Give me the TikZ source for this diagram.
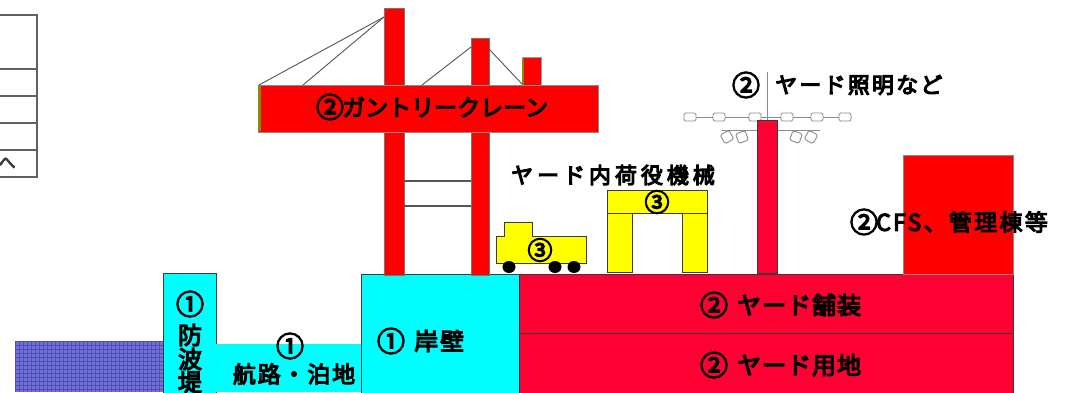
\documentclass[tikz,border=0pt]{standalone}
\usepackage{fontspec}
\setmainfont{Noto Sans CJK JP}[FakeBold=5]
\newcommand\spaced[2]{{\addfontfeature{LetterSpace=#1}#2}}

\definecolor{crane}{HTML}{FF0000}
\definecolor{yard}{HTML}{FF0033}
\definecolor{quay}{HTML}{00FFFF}
\definecolor{machine}{HTML}{FFFF00}
\definecolor{sea}{HTML}{7171DA}
\definecolor{seagrid}{HTML}{4E4EB4}
\definecolor{edge}{HTML}{3A3A3A}
\definecolor{olivestrip}{HTML}{8A8A00}
\definecolor{wire}{HTML}{555555}
\definecolor{lampgray}{HTML}{8C8C8C}

\tikzset{
  part/.style={draw=edge, line width=0.8},
  cable/.style={draw=wire, line width=0.9},
  tbl/.style={draw=edge!80, line width=1.2},
  lampline/.style={draw=lampgray, line width=0.9},
  lamp/.style={draw=lampgray, fill=white, line width=0.9, rounded corners=1.5},
  lbl/.style={inner sep=0, text=black, font=\fontsize{23}{26}\selectfont},
  num/.style={inner sep=0, text=black, font=\fontsize{28}{30}\selectfont},
  small/.style={inner sep=0, text=black, font=\fontsize{25}{27}\selectfont},
}

\begin{document}
\begin{tikzpicture}[x=1pt,y=-1pt]
\fill[white] (0,0) rectangle (1072,392);
\useasboundingbox (0,0) rectangle (1072,392);

% table fragment at the left edge
\draw[tbl] (0,15) -- (37,15) -- (37,177) -- (0,177);
\foreach \yy in {69,96,123,150} \draw[tbl] (0,\yy) -- (37,\yy);
\node[inner sep=0, font=\fontsize{17}{17}\selectfont, text=edge] (tblmark) at (7,163) {へ};

% sea
\fill[sea] (15,341) rectangle (163,392);
\foreach \xx in {15,19,...,163} \draw[seagrid, line width=0.35] (\xx,341) -- (\xx,392);
\foreach \yy in {341,345,...,392} \draw[seagrid, line width=0.35] (15,\yy) -- (163,\yy);

% breakwater, channel, quay wall
\draw[part, fill=quay] (163,273) rectangle (216,395);
\fill[quay] (216,344) rectangle (361,392);
\draw[part, fill=quay] (361,274) rectangle (519,395);

% yard
\draw[part, fill=yard] (519,274) rectangle (1013,333);
\draw[part, fill=yard] (519,333) rectangle (1013,395);

% CFS building
\draw[part, draw=edge!60, fill=crane] (903,155) rectangle (1013,274);

% gantry crane: legs and masts
\draw[part, draw=edge!70, fill=crane] (384,8) rectangle (404,275);
\draw[part, draw=edge!70, fill=crane] (471,38) rectangle (489,275);
\draw[wire, line width=1.1] (404,181) -- (471,181);
\draw[wire, line width=1.1] (404,206) -- (471,206);
% small mast
\draw[part, draw=edge!50, fill=crane] (522,57) rectangle (541,85);
\draw[olivestrip, line width=2] (523,59) -- (523,85);
% boom girder
\draw[part, draw=edge!60, fill=crane] (258,85) rectangle (598,132);
\draw[olivestrip, line width=2.2] (259.5,86) -- (259.5,131);
% stay cables
\draw[cable] (384,17) -- (259,85);
\draw[cable] (384,17) -- (303,85);
\draw[cable] (471,47) -- (422,85);
\draw[cable] (489,49) -- (522,84);

% yard truck
\draw[part, fill=machine] (504,222) -- (532,222) -- (532,236) -- (586,236) -- (586,263) -- (496,263) -- (496,236) -- (504,236) -- cycle;
\foreach \xx in {509,555,574} \fill[black] (\xx,267) ellipse [x radius=6.5pt, y radius=6pt];

% straddle carrier
\draw[part, fill=machine] (607,190) rectangle (707,213);
\draw[part, fill=machine] (607,213) rectangle (632,272);
\draw[part, fill=machine] (682,213) rectangle (707,272);

% yard lighting tower
\draw[lampline] (767,72) -- (767,120);
\draw[lampline] (687,117) -- (852,117);
\draw[lampline] (722,130) -- (820,130);
\foreach \xx in {690,719,755,787,817,845} \draw[lamp] (\xx-6,113) rectangle (\xx+6,121);
\foreach \xx/\aa in {727/30,742/20,796/-20,811/-30}
  \draw[lamp, rotate around={\aa:(\xx,137)}] (\xx-5,132) rectangle (\xx+5,142);
\draw[part, fill=yard] (757,120) rectangle (777,273);

% labels
\node[num] (gantryno) at (330,107) {②};
\node[lbl, anchor=west] (gantry) at (342,107) {ガントリークレーン};
\node[lbl, font=\fontsize{22}{24}\selectfont] (handling) at (613,175) {\spaced{18}{ヤード内荷役機械}};
\node[small] (truckno) at (540,250) {③};
\node[small] (carrierno) at (657,202) {③};
\node[num] (lightno) at (746,85) {②};
\node[lbl, anchor=west, font=\fontsize{22}{24}\selectfont] (light) at (775,85) {\spaced{10}{ヤード照明など}};
\node[num] (cfsno) at (864,222) {②};
\node[lbl, anchor=west] (cfs) at (876,222) {\spaced{10}{CFS、管理棟等}};
\node[num] (quayno) at (391,341) {①};
\node[lbl, anchor=west, font=\fontsize{24}{26}\selectfont] (quaytxt) at (414,341) {\spaced{8}{岸壁}};
\node[num] (channo) at (290,346) {①};
\node[lbl] (chantxt) at (294,374) {\spaced{8}{航路・泊地}};
\node[num] (bwno) at (190,304) {①};
\node[lbl, font=\fontsize{24}{26}\selectfont] (bw1) at (190,335) {防};
\node[lbl, font=\fontsize{24}{26}\selectfont] (bw2) at (190,359) {波};
\node[lbl, font=\fontsize{24}{26}\selectfont] (bw3) at (190,382) {堤};
\node[num] (paveno) at (714,305) {②};
\node[lbl, anchor=west, font=\fontsize{24}{26}\selectfont] (pave) at (737,305) {\spaced{4}{ヤード舗装}};
\node[num] (landno) at (714,365) {②};
\node[lbl, anchor=west, font=\fontsize{24}{26}\selectfont] (land) at (737,365) {\spaced{4}{ヤード用地}};
\end{tikzpicture}
\end{document}
